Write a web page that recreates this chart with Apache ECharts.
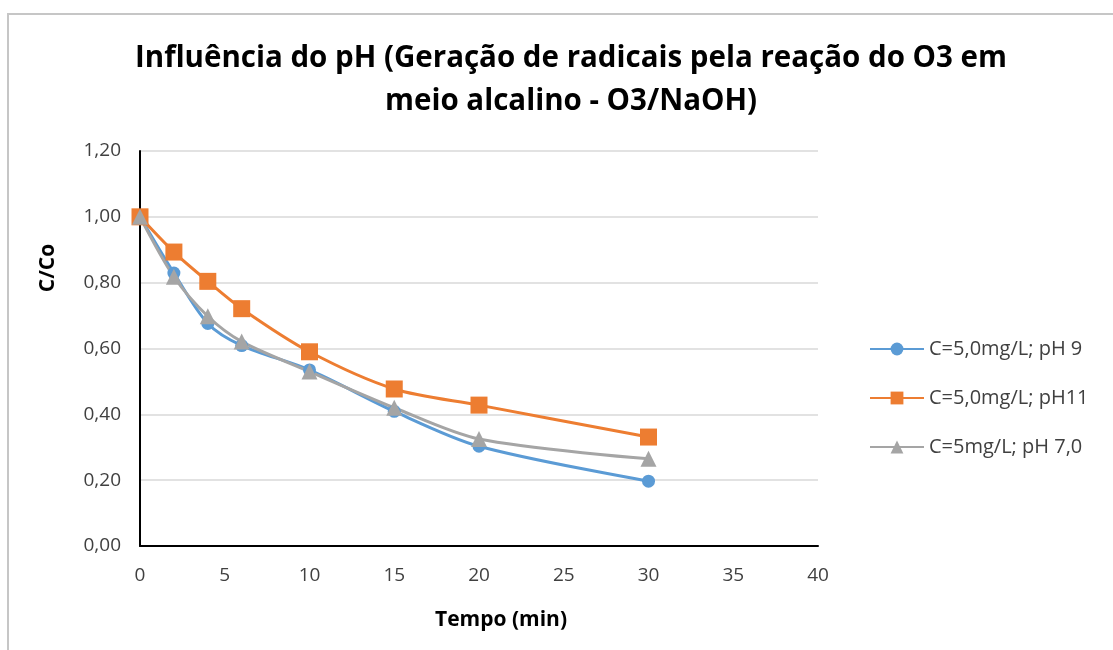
<!DOCTYPE html>
<html><head><meta charset="utf-8">
<script src="https://cdn.jsdelivr.net/npm/echarts@6/dist/echarts.min.js"></script>
<style>html,body{margin:0;padding:0;background:#fff}#c{width:1113px;height:650px}</style>
</head><body><div id="c"></div>
<script>
const tempo = [0, 2, 4, 6, 10, 15, 20, 30];
const pH9 = [1.00, 0.829, 0.676, 0.609, 0.535, 0.409, 0.303, 0.197];
const pH11 = [1.00, 0.893, 0.804, 0.721, 0.590, 0.477, 0.428, 0.331];
const pH7 = [1.00, 0.818, 0.698, 0.621, 0.530, 0.420, 0.325, 0.265];
const seriesNames = ['C=5,0mg/L; pH 9', 'C=5,0mg/L; pH11', 'C=5mg/L; pH 7,0'];
const titleLines = ['Influência do pH (Geração de radicais pela reação do O3 em', 'meio alcalino - O3/NaOH)'];
const xName = 'Tempo (min)';
const yName = 'C/Co';

const font = 'Open Sans';
const chart = echarts.init(document.getElementById('c'));
function pts(ys){ return tempo.map((t,i)=>[t, ys[i]]); }
const common = { type:'line', smooth:0.3, lineStyle:{width:3}, symbolKeepAspect:true, z:3 };
chart.setOption({
  animation:false,
  backgroundColor:'#fff',
  title:{ text: titleLines.join('\n'), left:566, top:32, textAlign:'center',
    textStyle:{ fontFamily:font, fontWeight:'bold', fontSize:29.5, color:'#000', lineHeight:43 } },
  grid:{ left:140, right:295, top:151, bottom:104 },
  legend:{ orient:'vertical', left:864, top:334, itemWidth:54, itemHeight:16, itemGap:29,
    textStyle:{ fontFamily:font, fontSize:20, color:'#404040' },
    data: seriesNames },
  xAxis:{ type:'value', min:0, max:40, interval:5,
    axisLine:{ lineStyle:{ color:'#000', width:2 } }, axisTick:{show:false},
    axisLabel:{ fontFamily:font, fontSize:19, color:'#404040', margin:20 },
    splitLine:{show:false} },
  yAxis:{ type:'value', min:0, max:1.2, interval:0.2,
    axisLine:{ show:true, lineStyle:{ color:'#000', width:2 } }, axisTick:{show:false},
    axisLabel:{ fontFamily:font, fontSize:19, color:'#404040', margin:19,
      formatter: v => v.toFixed(2).replace('.', ',') },
    splitLine:{ lineStyle:{ color:'#d9d9d9', width:1.5 } } },
  graphic:[
    { type:'rect', shape:{ x:8, y:14, width:1300, height:800 }, style:{ fill:'none', stroke:'#c6c6c6', lineWidth:2 }, silent:true, z:-1 },
    { type:'text', x:48, y:268, rotation:Math.PI/2, style:{ text:yName, fontFamily:font, fontWeight:'bold', fontSize:21, fill:'#000', align:'center', verticalAlign:'middle' } },
    { type:'text', x:501, y:620, style:{ text:xName, fontFamily:font, fontWeight:'bold', fontSize:21, fill:'#000', align:'center', verticalAlign:'middle' } }
  ],
  series:[
    Object.assign({}, common, { name:seriesNames[0], data:pts(pH9), symbol:'circle', symbolSize:13, itemStyle:{color:'#5B9BD5'} }),
    Object.assign({}, common, { name:seriesNames[1], data:pts(pH11), symbol:'rect', symbolSize:17, itemStyle:{color:'#ED7D31'} }),
    Object.assign({}, common, { name:seriesNames[2], data:pts(pH7), symbol:'triangle', symbolSize:16, itemStyle:{color:'#A5A5A5'} })
  ]
});
</script></body></html>
